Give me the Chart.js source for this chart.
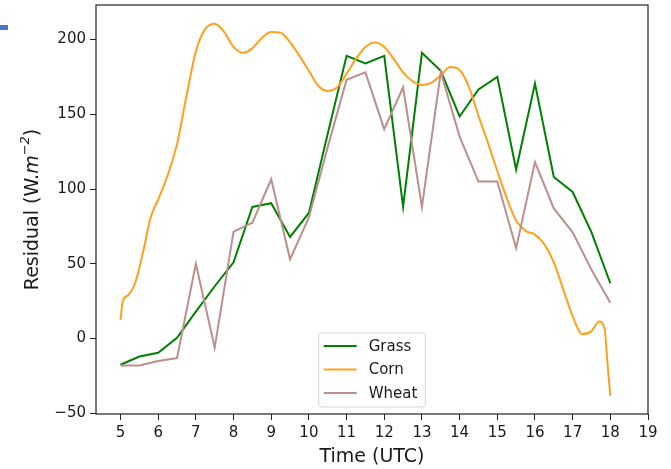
<!DOCTYPE html>
<html>
<head>
<meta charset="utf-8">
<script src="https://cdn.jsdelivr.net/npm/chart.js@4.4.1/dist/chart.umd.min.js"></script>
<style>
  body { margin: 0; background: #fff; }
  #wrap { position: relative; width: 671px; height: 469px; }
  #mark { position: absolute; left: 0; top: 25px; width: 8px; height: 5px; background: #4a78c8; }
</style>
</head>
<body>
<div id="wrap">
  <canvas id="residualChart" width="671" height="469"></canvas>
  <div id="mark"></div>
</div>
<script>
// half-hour steps for grass / wheat
const hours = [5, 5.5, 6, 6.5, 7, 7.5, 8, 8.5, 9, 9.5, 10, 10.5, 11, 11.5, 12,
  12.5, 13, 13.5, 14, 14.5, 15, 15.5, 16, 16.5, 17, 17.5, 18];

const grass = [-17.5, -12, -9.5, 0.5, 18, 35, 51, 88, 90.5, 68, 84, 137, 189, 184, 189,
  88, 191, 179, 148.5, 166.5, 175, 113, 170.5, 108, 98, 71, 37];

const wheat = [-18, -18, -15, -13, 50, -6, 71.5, 77.5, 106.5, 53, 81, 128, 173, 178, 140,
  168, 88, 178, 135, 105, 105, 60.5, 118, 87, 71, 46, 24];

const cornTimes = [5.0, 5.06, 5.2, 5.4, 5.6, 5.8, 6.0, 6.25, 6.5, 6.75, 7.0, 7.25, 7.5, 7.75,
  8.0, 8.25, 8.5, 8.75, 9.0, 9.25, 9.5, 9.75, 10.0, 10.25, 10.5, 10.75, 11.0, 11.25, 11.5,
  11.75, 12.0, 12.25, 12.5, 12.75, 13.0, 13.25, 13.5, 13.75, 14.0, 14.25, 14.5, 14.75, 15.0,
  15.25, 15.5, 15.75, 16.0, 16.25, 16.5, 16.75, 17.0, 17.25, 17.5, 17.7, 17.85, 17.92, 18.0];

const corn = [12.5, 25, 29, 38, 58, 81, 93, 109, 130, 162, 192, 207, 210.5, 205,
  195, 191, 194, 201, 205, 204.5, 198, 189, 179, 169, 165.5, 168, 177, 187, 195,
  198, 195, 187, 178, 172, 169.5, 171, 176, 181.5, 179.5, 168, 149, 131, 112,
  94, 79, 72, 69.5, 63, 51, 33, 15, 3, 5, 11.5, 6, -15, -38.5];

const xTicks = [5, 6, 7, 8, 9, 10, 11, 12, 13, 14, 15, 16, 17, 18, 19];
const yTicks = [-50, 0, 50, 100, 150, 200];

const FONT = '"DejaVu Sans", sans-serif';
const INK = '#1a1a1a';

// box round the plot area
const frame = {
  id: 'frame',
  afterDatasetsDraw(chart) {
    const { ctx, chartArea: a } = chart;
    ctx.save();
    ctx.strokeStyle = '#222';
    ctx.lineWidth = 1.2;
    ctx.strokeRect(a.left, a.top, a.right - a.left, a.bottom - a.top);
    ctx.restore();
  }
};

// legend inside the axes, lower centre
const legendBox = {
  id: 'legendBox',
  afterDraw(chart) {
    const { ctx, chartArea: a } = chart;
    const sets = chart.data.datasets;
    ctx.save();
    ctx.font = '15px ' + FONT;
    const textW = Math.max(...sets.map(d => ctx.measureText(d.label).width));
    const w = 5 + 33 + 12 + textW + 8;
    const rowH = 23.5;
    const h = 13 + rowH * (sets.length - 1) + 14;
    const x = (a.left + a.right) / 2 - w / 2;
    const y = a.bottom - 7 - h;
    const r = 3;
    ctx.beginPath();
    ctx.moveTo(x + r, y);
    ctx.lineTo(x + w - r, y);
    ctx.arcTo(x + w, y, x + w, y + r, r);
    ctx.lineTo(x + w, y + h - r);
    ctx.arcTo(x + w, y + h, x + w - r, y + h, r);
    ctx.lineTo(x + r, y + h);
    ctx.arcTo(x, y + h, x, y + h - r, r);
    ctx.lineTo(x, y + r);
    ctx.arcTo(x, y, x + r, y, r);
    ctx.closePath();
    ctx.fillStyle = 'rgba(255,255,255,0.85)';
    ctx.fill();
    ctx.strokeStyle = '#d4d4d4';
    ctx.lineWidth = 1;
    ctx.stroke();
    sets.forEach((d, i) => {
      const cy = y + 13 + i * rowH;
      ctx.strokeStyle = d.borderColor;
      ctx.lineWidth = 2;
      ctx.beginPath();
      ctx.moveTo(x + 5, cy);
      ctx.lineTo(x + 38, cy);
      ctx.stroke();
      ctx.fillStyle = INK;
      ctx.textBaseline = 'middle';
      ctx.textAlign = 'left';
      ctx.fillText(d.label, x + 50, cy + 1);
    });
    ctx.restore();
  }
};

// y title with italic m and superscript -2
const yTitle = {
  id: 'yTitle',
  afterDraw(chart) {
    const { ctx, chartArea: a } = chart;
    const size = 19;
    const parts = [
      { t: 'Residual (W.', f: size + 'px ' + FONT, dy: 0 },
      { t: 'm', f: 'italic ' + size + 'px ' + FONT, dy: 0 },
      { t: '\u22122', f: 'italic ' + Math.round(size * 0.7) + 'px ' + FONT, dy: -size * 0.38 },
      { t: ')', f: size + 'px ' + FONT, dy: 0 }
    ];
    ctx.save();
    let total = 0;
    parts.forEach(p => { ctx.font = p.f; p.w = ctx.measureText(p.t).width; total += p.w; });
    ctx.translate(33, (a.top + a.bottom) / 2);
    ctx.rotate(-Math.PI / 2);
    ctx.fillStyle = INK;
    ctx.textBaseline = 'middle';
    ctx.textAlign = 'left';
    let cx = -total / 2;
    parts.forEach(p => {
      ctx.font = p.f;
      ctx.fillText(p.t, cx, p.dy);
      cx += p.w;
    });
    ctx.restore();
  }
};

const ctx = document.getElementById('residualChart').getContext('2d');

new Chart(ctx, {
  type: 'line',
  data: {
    datasets: [
      {
        label: 'Grass',
        data: hours.map((h, i) => ({ x: h, y: grass[i] })),
        borderColor: 'green',
        borderWidth: 2,
        tension: 0,
        order: 2
      },
      {
        label: 'Corn',
        data: cornTimes.map((h, i) => ({ x: h, y: corn[i] })),
        borderColor: '#ffa01e',
        borderWidth: 2,
        cubicInterpolationMode: 'monotone',
        order: 1
      },
      {
        label: 'Wheat',
        data: hours.map((h, i) => ({ x: h, y: wheat[i] })),
        borderColor: 'rosybrown',
        borderWidth: 2,
        tension: 0,
        order: 0
      }
    ]
  },
  options: {
    responsive: false,
    animation: false,
    devicePixelRatio: 1,
    layout: { padding: { left: 0, right: 23, top: 5, bottom: 0 } },
    elements: { point: { radius: 0 }, line: { fill: false } },
    plugins: {
      legend: { display: false },
      tooltip: { enabled: false }
    },
    scales: {
      x: {
        type: 'linear',
        min: 4.35,
        max: 19,
        afterBuildTicks: s => { s.ticks = xTicks.map(v => ({ value: v })); },
        afterFit: s => { s.height = 55; s.paddingLeft = 0; s.paddingRight = 0; },
        border: { display: false },
        grid: { drawOnChartArea: false, drawTicks: true, tickLength: 6, color: '#222' },
        ticks: { color: INK, font: { family: FONT, size: 15 }, padding: 4, maxRotation: 0 },
        title: { display: true, text: 'Time (UTC)', color: INK, font: { family: FONT, size: 19 }, padding: { top: 0, bottom: 1 } }
      },
      y: {
        min: -50.4,
        max: 223,
        afterBuildTicks: s => { s.ticks = yTicks.map(v => ({ value: v })); },
        afterFit: s => { s.width = 96; s.paddingTop = 0; s.paddingBottom = 0; },
        border: { display: false },
        grid: { drawOnChartArea: false, drawTicks: true, tickLength: 6, color: '#222' },
        ticks: { color: INK, font: { family: FONT, size: 15 }, padding: 4,
          callback: v => v < 0 ? '\u2212' + Math.abs(v) : String(v) }
      }
    }
  },
  plugins: [frame, legendBox, yTitle]
});
</script>
</body>
</html>
